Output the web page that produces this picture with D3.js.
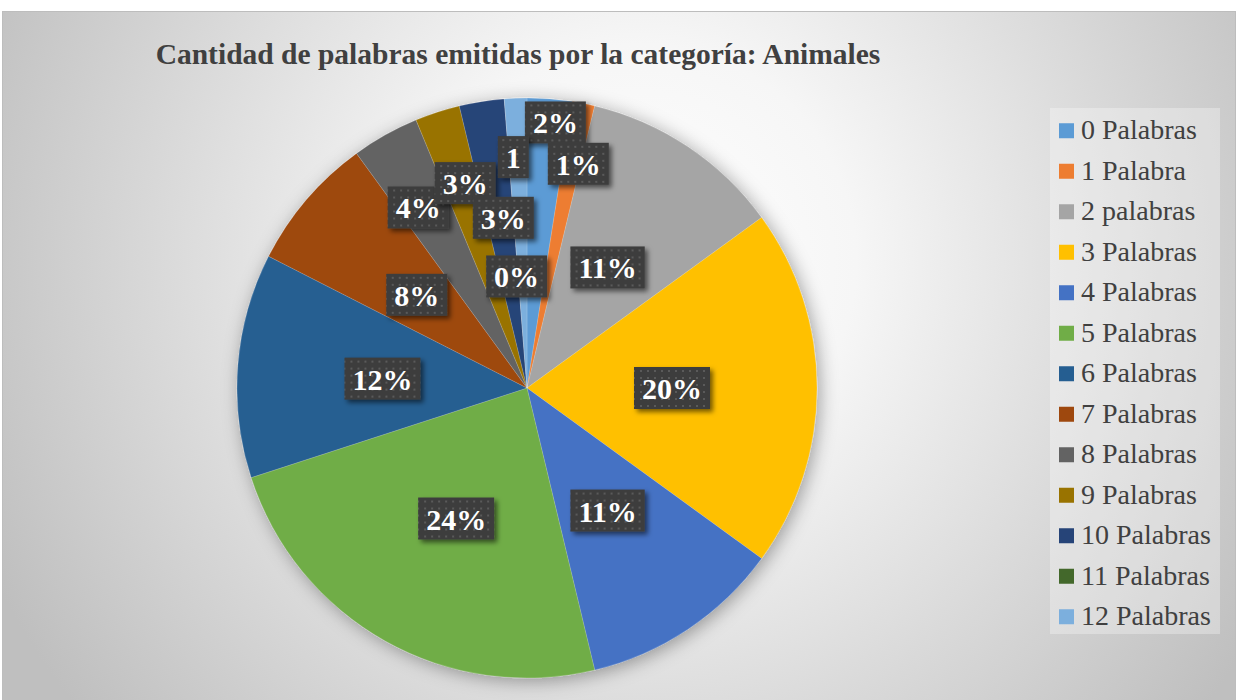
<!DOCTYPE html>
<html>
<head>
<meta charset="utf-8">
<script src="https://cdn.jsdelivr.net/npm/d3@7"></script>
<style>
  body { margin: 0; background: #fff; }
  svg { display: block; }
  svg text { font-family: "Liberation Serif", "Times New Roman", Times, serif; }
</style>
</head>
<body>
<div class="chart-div"></div>
<script>

// datos
let categorias = ["0 Palabras", "1 Palabra", "2 palabras", "3 Palabras", "4 Palabras", "5 Palabras",
  "6 Palabras", "7 Palabras", "8 Palabras", "9 Palabras", "10 Palabras", "11 Palabras", "12 Palabras"];
let cantidades = [2, 1, 9, 16, 9, 19, 10, 6, 3, 2, 2, 0, 1];
let etiquetas = ["2%", "1%", "11%", "20%", "11%", "24%", "12%", "8%", "4%", "3%", "3%", "0%", "1"];
let colores = ["#5B9BD5", "#ED7D31", "#A5A5A5", "#FFC000", "#4472C4", "#70AD47",
  "#255E91", "#9E480E", "#636363", "#997300", "#264478", "#43682B", "#7CAFDD"];

// excel moves the small labels out of the way
let desplazamientoEtiquetas = [[17,-121],[23,-82],[0,0],[0,0],[0,2],[0,4],[0,2],[0,1],[-38,-54],[-17,-67],[-1,-27],[1,33],[-8,-86]];

let width = 1236;
let height = 700;
let cx = 527, cy = 388, radius = 290;

let svg = d3.select(".chart-div").append("svg")
  .attr("width", width)
  .attr("height", height);

let defs = svg.append("defs");

// background gradient
let grad = defs.append("radialGradient")
  .attr("id", "fondo")
  .attr("gradientUnits", "userSpaceOnUse")
  .attr("cx", 640).attr("cy", 260).attr("r", 720);
grad.append("stop").attr("offset", 0).attr("stop-color", "#ffffff");
grad.append("stop").attr("offset", 0.3).attr("stop-color", "#f6f6f6");
grad.append("stop").attr("offset", 1).attr("stop-color", "#bfbfbf");

// dotted pattern for the label boxes
let pat = defs.append("pattern")
  .attr("id", "puntos")
  .attr("width", 7).attr("height", 7)
  .attr("patternUnits", "userSpaceOnUse");
pat.append("rect").attr("width", 7).attr("height", 7).attr("fill", "#3d3d3d");
pat.append("rect").attr("x", 3).attr("y", 3).attr("width", 2).attr("height", 2).attr("fill", "#5a5a5a");

let sombraPie = defs.append("filter").attr("id", "sombraPie")
  .attr("x", "-20%").attr("y", "-20%").attr("width", "140%").attr("height", "140%");
sombraPie.append("feDropShadow")
  .attr("dx", 3).attr("dy", 3).attr("stdDeviation", 9)
  .attr("flood-color", "#000").attr("flood-opacity", 0.35);

let sombraCaja = defs.append("filter").attr("id", "sombraCaja")
  .attr("x", "-30%").attr("y", "-30%").attr("width", "160%").attr("height", "160%");
sombraCaja.append("feDropShadow")
  .attr("dx", 3).attr("dy", 3).attr("stdDeviation", 2.5)
  .attr("flood-color", "#000").attr("flood-opacity", 0.55);

// chart area
svg.append("rect")
  .attr("x", 2.5).attr("y", 11.5)
  .attr("width", width - 3).attr("height", height - 11)
  .attr("fill", "url(#fondo)")
  .attr("stroke", "#bdbdbd");

// title
svg.append("text")
  .attr("x", 518)
  .attr("y", 64)
  .attr("text-anchor", "middle")
  .style("font-weight", "bold")
  .style("font-size", "29.5px")
  .style("fill", "#404040")
  .text("Cantidad de palabras emitidas por la categoría: Animales");

// pie
let pie = d3.pie().sort(null).value(d => d);
let arcs = pie(cantidades);

let arc = d3.arc().innerRadius(0).outerRadius(radius);
let arcLabel = d3.arc().innerRadius(radius * 0.5).outerRadius(radius * 0.5);

let g = svg.append("g").attr("transform", `translate(${cx},${cy})`);

g.append("g")
  .attr("filter", "url(#sombraPie)")
  .selectAll("path")
  .data(arcs)
  .enter()
  .append("path")
  .attr("d", arc)
  .style("fill", (d, i) => colores[i])
  .style("stroke", "#ffffff")
  .style("stroke-opacity", 0.25)
  .style("stroke-width", 0.6);

// labels
let labels = g.selectAll("g.label")
  .data(arcs)
  .enter()
  .append("g")
  .attr("class", "label")
  .attr("transform", (d, i) => {
    let c = arcLabel.centroid(d);
    return `translate(${c[0] + desplazamientoEtiquetas[i][0]},${c[1] + desplazamientoEtiquetas[i][1]})`;
  });

labels.append("rect").attr("class", "caja");

labels.append("text")
  .attr("text-anchor", "middle")
  .attr("y", 11)
  .style("font-weight", "bold")
  .style("font-size", "30px")
  .style("fill", "#ffffff")
  .text((d, i) => etiquetas[i]);

labels.each(function() {
  let t = d3.select(this).select("text").node();
  let w = t.getComputedTextLength() + 16;
  d3.select(this).select("rect")
    .attr("x", -w / 2).attr("y", -21)
    .attr("width", w).attr("height", 42)
    .attr("fill", "url(#puntos)")
    .attr("filter", "url(#sombraCaja)");
});

// legend
let legendY = d3.scaleBand()
  .domain(categorias)
  .range([110, 110 + 13 * 40.5]);

svg.append("rect")
  .attr("x", 1050).attr("y", 108)
  .attr("width", 170).attr("height", 526)
  .attr("fill", "#ffffff")
  .attr("fill-opacity", 0.3);

let legend = svg.selectAll("g.legend")
  .data(categorias)
  .enter()
  .append("g")
  .attr("class", "legend")
  .attr("transform", d => `translate(1059,${legendY(d) + legendY.bandwidth() / 2})`);

legend.append("rect")
  .attr("x", 0).attr("y", -7)
  .attr("width", 15).attr("height", 15)
  .style("fill", (d, i) => colores[i]);

legend.append("text")
  .attr("x", 22)
  .attr("y", 9)
  .style("font-size", "28px")
  .style("fill", "#404040")
  .text(d => d);

</script>
</body>
</html>
